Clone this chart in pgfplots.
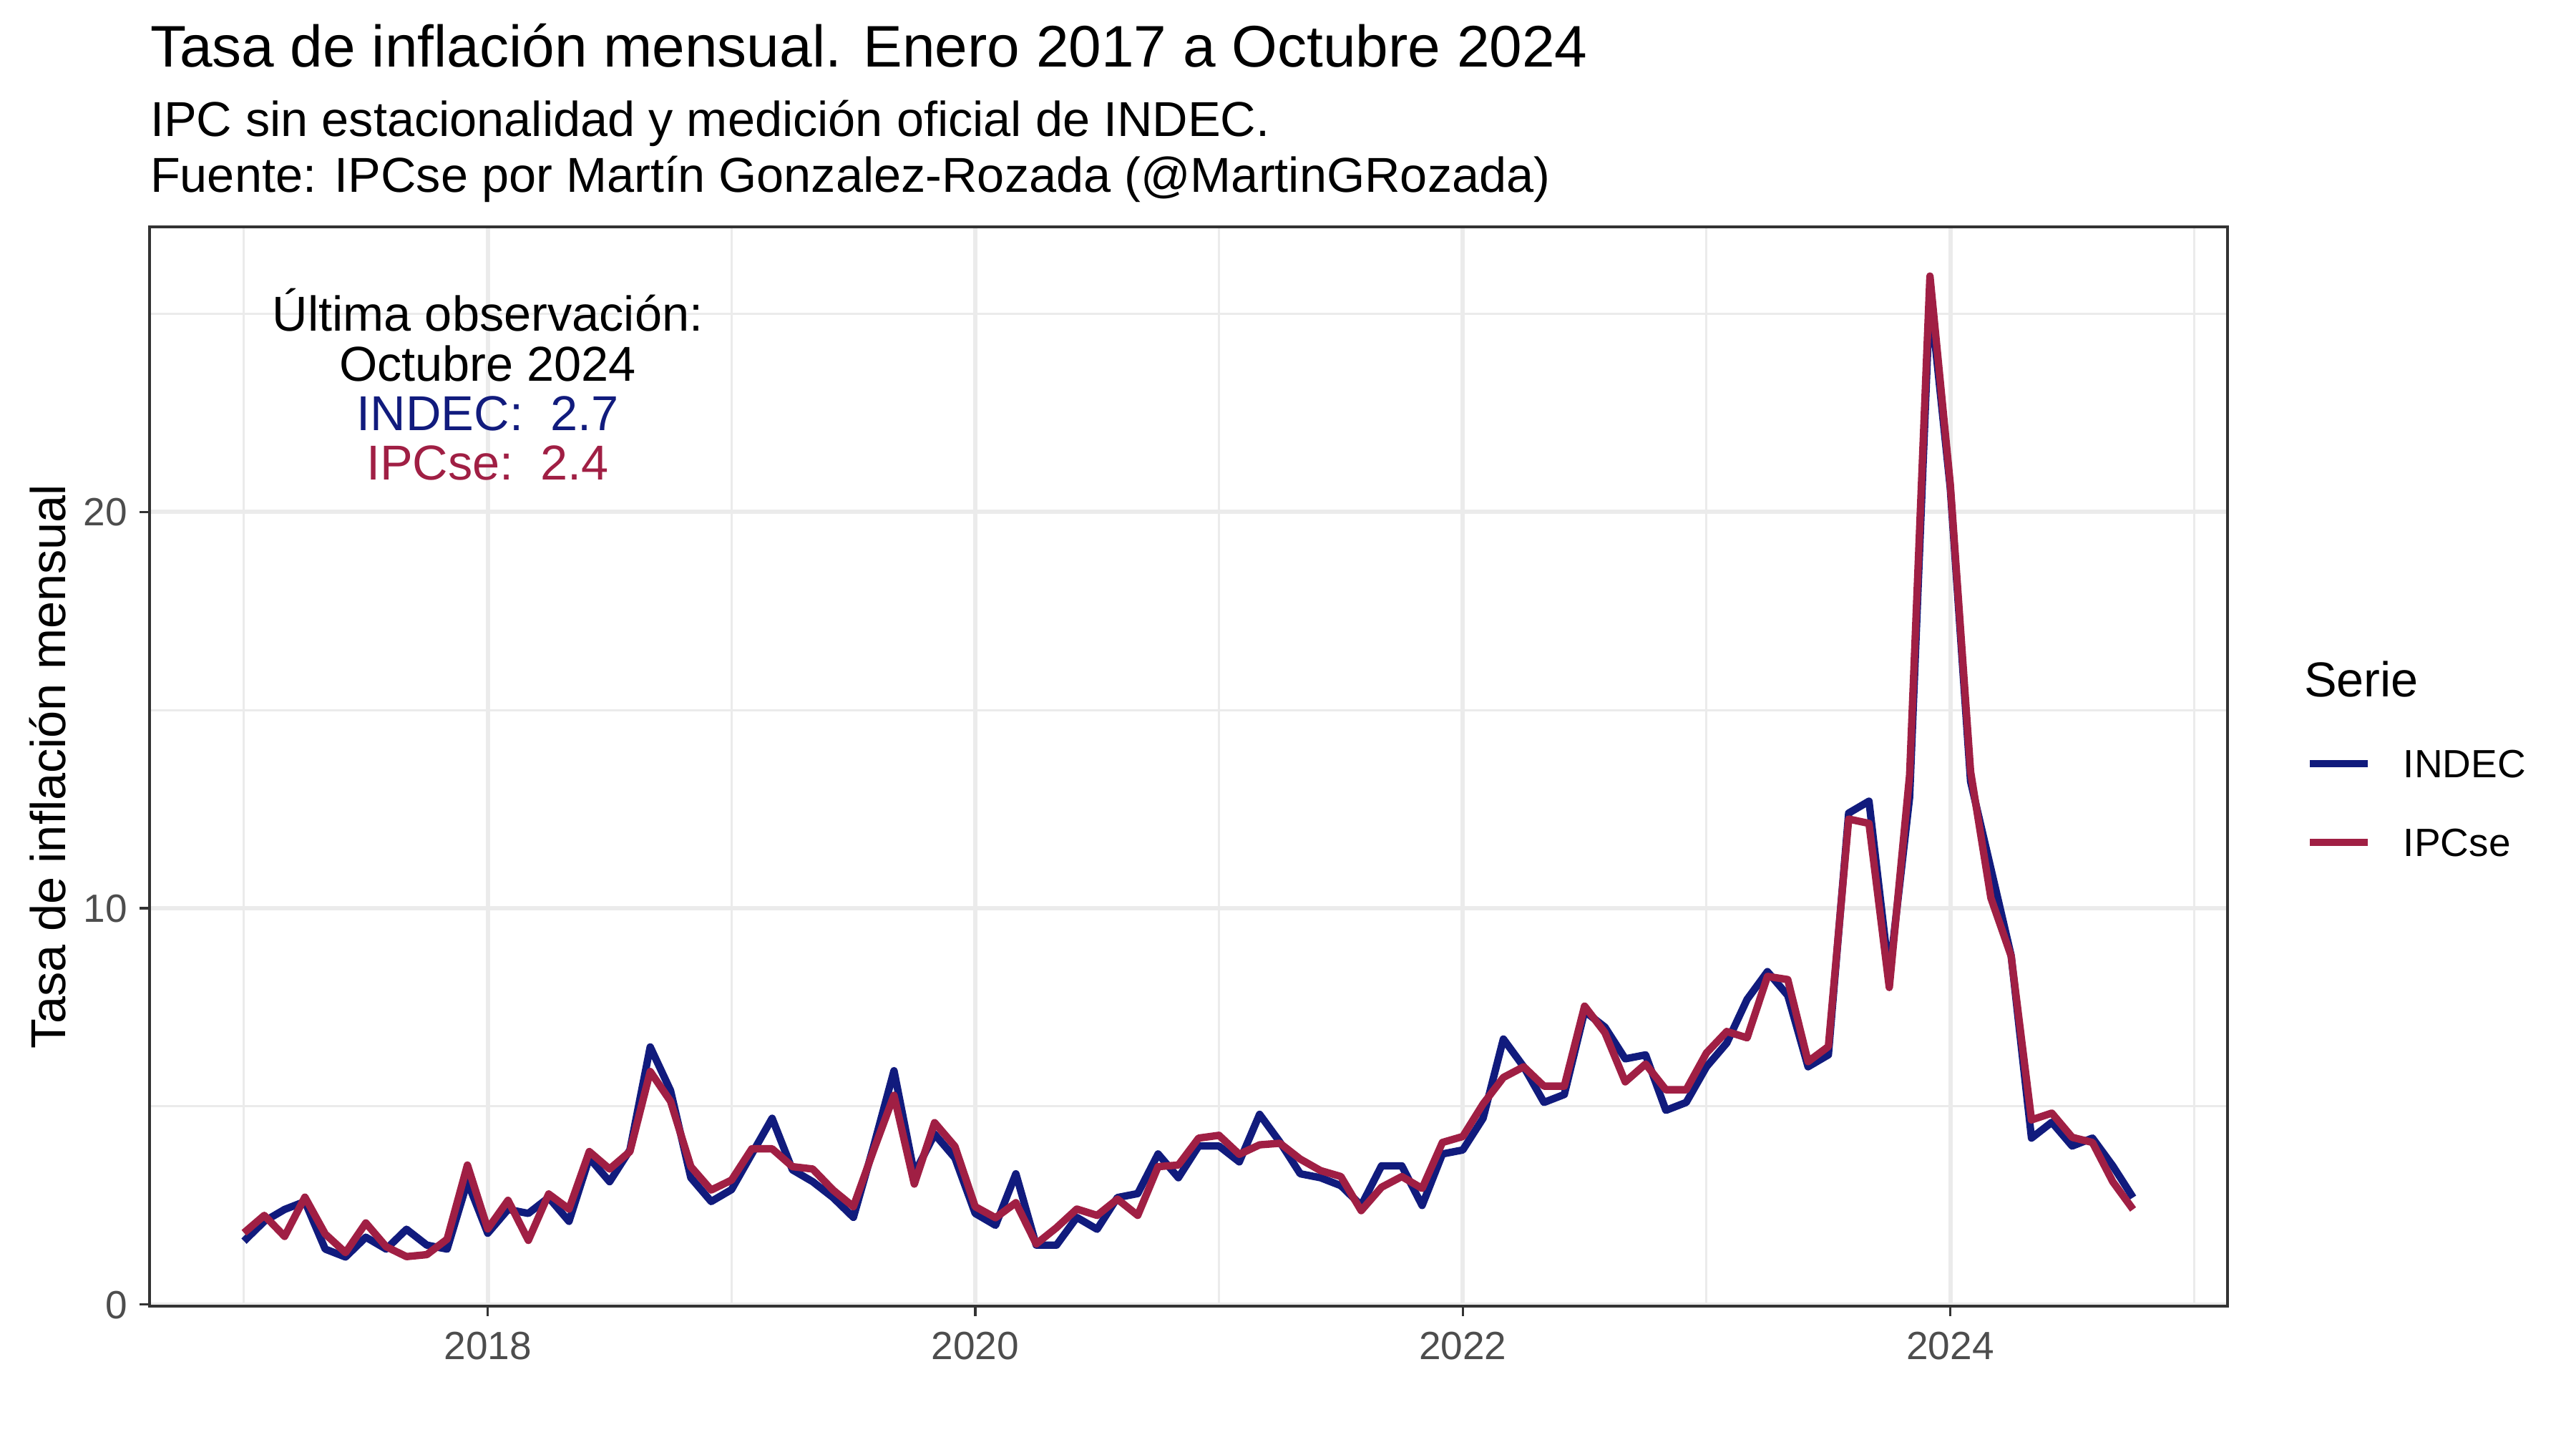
\documentclass[border=0pt]{standalone}
\usepackage{fontspec}
\setmainfont{Liberation Sans}
\usepackage{pgfplots}
\usepackage{pgfplotstable}
\pgfplotsset{compat=1.18}
\definecolor{indec}{RGB}{17,27,125}
\definecolor{ipcse}{RGB}{160,31,68}
\definecolor{gridc}{RGB}{235,235,235}
\definecolor{grayT}{RGB}{77,77,77}
\definecolor{grayB}{RGB}{51,51,51}

\pgfplotstableread{
m indec ipcse
0 1.6 1.81
1 2.1 2.25
2 2.4 1.72
3 2.6 2.71
4 1.4 1.78
5 1.2 1.31
6 1.7 2.06
7 1.4 1.46
8 1.9 1.21
9 1.5 1.26
10 1.4 1.65
11 3.1 3.52
12 1.8 1.91
13 2.4 2.63
14 2.3 1.62
15 2.7 2.79
16 2.1 2.41
17 3.7 3.86
18 3.1 3.42
19 3.9 3.86
20 6.5 5.88
21 5.4 5.13
22 3.2 3.48
23 2.6 2.89
24 2.9 3.14
25 3.8 3.93
26 4.7 3.93
27 3.4 3.48
28 3.1 3.42
29 2.7 2.89
30 2.2 2.47
31 4.0 3.90
32 5.9 5.28
33 3.3 3.04
34 4.3 4.59
35 3.7 3.99
36 2.3 2.47
37 2.0 2.19
38 3.3 2.57
39 1.5 1.53
40 1.5 1.94
41 2.2 2.41
42 1.9 2.25
43 2.7 2.66
44 2.8 2.25
45 3.8 3.48
46 3.2 3.52
47 4.0 4.20
48 4.0 4.27
49 3.6 3.79
50 4.8 4.03
51 4.1 4.07
52 3.3 3.67
53 3.2 3.38
54 3.0 3.23
55 2.5 2.37
56 3.5 2.96
57 3.5 3.23
58 2.5 2.93
59 3.8 4.09
60 3.9 4.24
61 4.7 5.06
62 6.7 5.73
63 6.0 6.00
64 5.1 5.51
65 5.3 5.51
66 7.4 7.53
67 7.0 6.86
68 6.2 5.62
69 6.3 6.07
70 4.9 5.42
71 5.1 5.42
72 6.0 6.35
73 6.6 6.89
74 7.7 6.73
75 8.4 8.28
76 7.8 8.20
77 6.0 6.13
78 6.3 6.51
79 12.4 12.25
80 12.7 12.14
81 8.3 8.00
82 12.8 13.36
83 25.5 25.95
84 20.6 20.70
85 13.2 13.45
86 11.0 10.26
87 8.8 8.79
88 4.2 4.66
89 4.6 4.83
90 4.0 4.22
91 4.2 4.09
92 3.5 3.10
93 2.7 2.40
}\datatable

\begin{document}
\begin{tikzpicture}
\path[use as bounding box] (0,0) rectangle (720pt,405pt);

\node[anchor=base west, inner sep=0pt, font=\fontsize{16.4}{20}\selectfont] at (41.8pt,386.2pt) {Tasa de inflación mensual. Enero 2017 a Octubre 2024};
\node[anchor=base west, inner sep=0pt, font=\fontsize{13.7}{16}\selectfont] at (41.8pt,366.9pt) {IPC sin estacionalidad y medición oficial de INDEC.};
\node[anchor=base west, inner sep=0pt, font=\fontsize{13.7}{16}\selectfont] at (41.8pt,351.3pt) {Fuente: IPCse por Martín Gonzalez-Rozada (@MartinGRozada)};

\begin{axis}[
  at={(41.8pt,40pt)}, anchor=south west,
  width=580.8pt, height=301.6pt, scale only axis,
  xmin=2016.6125, xmax=2025.1375, ymin=-0.04, ymax=27.19,
  xtick={2018,2020,2022,2024}, xticklabels={2018,2020,2022,2024},
  ytick={0,10,20}, yticklabels={0,10,20},
  minor xtick={2017,2019,2021,2023,2025}, minor ytick={5,15,25},
  grid=both,
  major grid style={gridc, line width=1.2pt},
  minor grid style={gridc, line width=0.6pt},
  axis line style={grayB, line width=0.65pt},
  tick align=outside, tick pos=left,
  major tick length=2.75pt, minor tick length=0pt,
  tick style={grayB, line width=0.65pt},
  ticklabel style={font=\fontsize{11}{13}\selectfont, text=grayT, inner sep=0pt, text height=7.9pt, text depth=0pt},
  xticklabel style={anchor=north, yshift=-3.95pt},
  yticklabel style={anchor=east, xshift=-3.25pt},
  ylabel={Tasa de inflación mensual},
  every axis y label/.style={at={(axis description cs:-0.0491,0.5)}, rotate=90, anchor=center, font=\fontsize{13.7}{16}\selectfont},
  legend style={at={(1.0379,0.5156)}, anchor=north west, draw=none, fill=none,
    inner sep=0pt, outer sep=0pt, row sep=14.1pt,
    nodes={inner sep=0pt, text height=7.9pt, text depth=0pt, font=\fontsize{11}{13}\selectfont},
    /tikz/every odd column/.append style={column sep=8.9pt}},
  legend image code/.code={\draw[#1] (0pt,0pt) -- (16.2pt,0pt);},
  legend cell align=left,
]
\addplot[indec, line width=2.07pt, line join=round, mark=none] table[x expr={2017+\thisrow{m}/12}, y=indec] {\datatable};
\addlegendentry{INDEC}
\addplot[ipcse, line width=2.07pt, line join=round, mark=none] table[x expr={2017+\thisrow{m}/12}, y=ipcse] {\datatable};
\addlegendentry{IPCse}

\node[anchor=base, inner sep=0pt, font=\fontsize{13.7}{16}\selectfont] at (axis cs:2018,24.57) {Última observación:};
\node[anchor=base, inner sep=0pt, font=\fontsize{13.7}{16}\selectfont] at (axis cs:2018,23.30) {Octubre 2024};
\node[anchor=base, inner sep=0pt, font=\fontsize{13.7}{16}\selectfont, text=indec] at (axis cs:2018,22.06) {INDEC:~~2.7};
\node[anchor=base, inner sep=0pt, font=\fontsize{13.7}{16}\selectfont, text=ipcse] at (axis cs:2018,20.81) {IPCse:~~2.4};
\end{axis}

\node[anchor=base west, inner sep=0pt, font=\fontsize{13.7}{16}\selectfont] at (643.8pt,210.3pt) {Serie};
\end{tikzpicture}
\end{document}
